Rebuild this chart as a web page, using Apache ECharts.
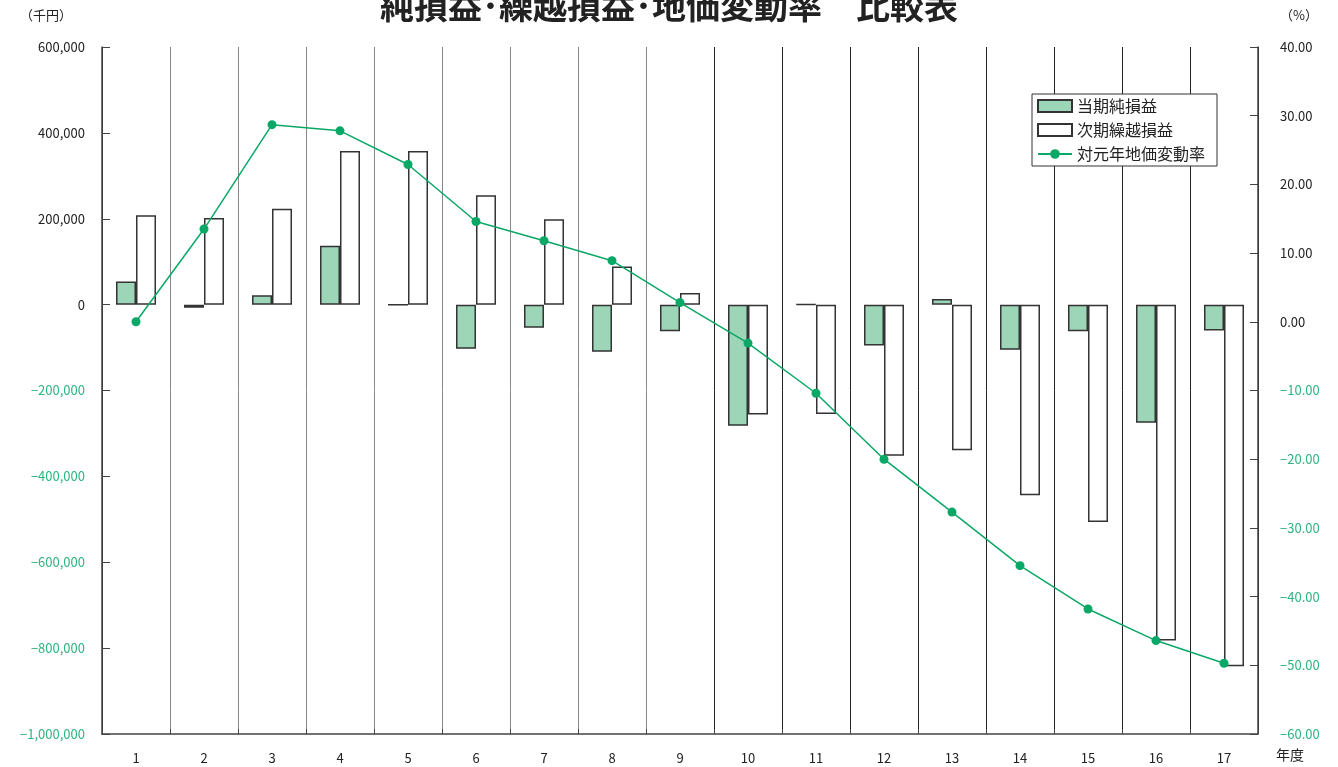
<!DOCTYPE html>
<html>
<head>
<meta charset="utf-8">
<script src="https://cdn.jsdelivr.net/npm/echarts@6/dist/echarts.min.js"></script>
<style>
html, body { margin: 0; padding: 0; background: #fff; }
#main { width: 1338px; height: 767px; }
</style>
</head>
<body>
<div id="main"></div>
<script>
// 年度
var years = ['1', '2', '3', '4', '5', '6', '7', '8', '9', '10', '11', '12', '13', '14', '15', '16', '17'];
// 当期純損益 (千円)
var netProfit = [54000, -7500, 22000, 137000, 0, -103000, -54000, -110000, -62000, -282000, 1000, -95000, 13000, -105000, -62000, -275000, -60000];
// 次期繰越損益 (千円)
var carryOver = [208000, 202000, 223000, 358000, 358000, 255000, 199000, 89000, 27000, -256000, -255000, -352000, -339000, -444000, -506000, -782000, -842000];
// 対元年地価変動率 (%)
var landRate = [0, 13.5, 28.7, 27.8, 22.9, 14.6, 11.8, 8.9, 2.8, -3.1, -10.4, -20.0, -27.7, -35.5, -41.8, -46.4, -49.7];

var GREEN_TXT = '#2db47f';
var FONT = '"Noto Sans CJK JP", "Noto Sans", sans-serif';

function fmtLeft(v) {
	var s = Math.abs(v).toString().replace(/\B(?=(\d{3})+(?!\d))/g, ',');
	return (v < 0 ? '\u2212' : '') + s;
}
function fmtRight(v) {
	return (v < 0 ? '\u2212' : '') + Math.abs(v).toFixed(2);
}

// 区切り線の色（前半は灰色、後半は黒）
var sepColors = [];
for (var i = 0; i <= 17; i++) sepColors.push(i >= 1 && i <= 8 ? '#888' : '#222');

var chart = echarts.init(document.getElementById('main'));
chart.setOption({
	animation: false,
	textStyle: { fontFamily: FONT },
	title: {
		text: '純損益･繰越損益･地価変動率　比較表',
		left: 'center',
		top: -16,
		textStyle: { fontSize: 34, fontWeight: 'bold', color: '#222', fontFamily: FONT }
	},
	graphic: [
		{ type: 'text', left: 20, top: 9, style: { text: '（千円）', fontSize: 13, fill: '#222', fontFamily: FONT } },
		{ type: 'text', left: 1280, top: 9, style: { text: '（%）', fontSize: 13, fill: '#222', fontFamily: FONT } },
		{ type: 'text', left: 1276, top: 748, style: { text: '年度', fontSize: 14, fill: '#222', fontFamily: FONT } }
	],
	legend: {
		orient: 'vertical',
		left: 1032,
		top: 94,
		padding: [4, 12, 4, 5],
		itemGap: 8,
		itemWidth: 34,
		itemHeight: 12,
		borderColor: '#333',
		borderWidth: 1,
		backgroundColor: '#fff',
		textStyle: { fontSize: 16, color: '#222', fontFamily: FONT },
		data: [
			{ name: '当期純損益', icon: 'rect' },
			{ name: '次期繰越損益', icon: 'rect' },
			{ name: '対元年地価変動率' }
		]
	},
	grid: { left: 102, right: 80, top: 47, bottom: 33 },
	xAxis: {
		type: 'category',
		data: years,
		axisLine: { onZero: false, lineStyle: { color: '#444', width: 1.5 } },
		axisTick: { show: true, inside: true, length: 5, lineStyle: { color: '#444' } },
		axisLabel: { color: '#222', fontSize: 13, margin: 18 },
		splitLine: { show: true, lineStyle: { color: sepColors, width: 1 } }
	},
	yAxis: [
		{
			type: 'value',
			min: -1000000,
			max: 600000,
			interval: 200000,
			axisLine: { show: true, lineStyle: { color: '#444', width: 1.5 } },
			axisTick: { show: true, inside: true, length: 8, lineStyle: { color: '#444' } },
			splitLine: { show: false },
			axisLabel: {
				fontSize: 13,
				margin: 17,
				formatter: fmtLeft,
				color: function (v) { return v < 0 ? GREEN_TXT : '#222'; }
			}
		},
		{
			type: 'value',
			min: -60,
			max: 40,
			interval: 10,
			axisLine: { show: true, lineStyle: { color: '#444', width: 1.5 } },
			axisTick: { show: true, inside: true, length: 8, lineStyle: { color: '#444' } },
			splitLine: { show: false },
			axisLabel: {
				fontSize: 13,
				margin: 22,
				formatter: fmtRight,
				color: function (v) { return v < 0 ? GREEN_TXT : '#222'; }
			}
		}
	],
	series: [
		{
			name: '当期純損益',
			type: 'bar',
			data: netProfit,
			barWidth: 20,
			barGap: '0%',
			itemStyle: { color: '#9dd5b8', borderColor: '#333', borderWidth: 1.5 }
		},
		{
			name: '次期繰越損益',
			type: 'bar',
			data: carryOver,
			barWidth: 20,
			barGap: '0%',
			itemStyle: { color: '#fff', borderColor: '#333', borderWidth: 1.5 }
		},
		{
			name: '対元年地価変動率',
			type: 'line',
			yAxisIndex: 1,
			data: landRate,
			symbol: 'circle',
			symbolSize: 9,
			z: 5,
			lineStyle: { color: '#0aa866', width: 1.5 },
			itemStyle: { color: '#0aa866' }
		}
	]
});
</script>
</body>
</html>
